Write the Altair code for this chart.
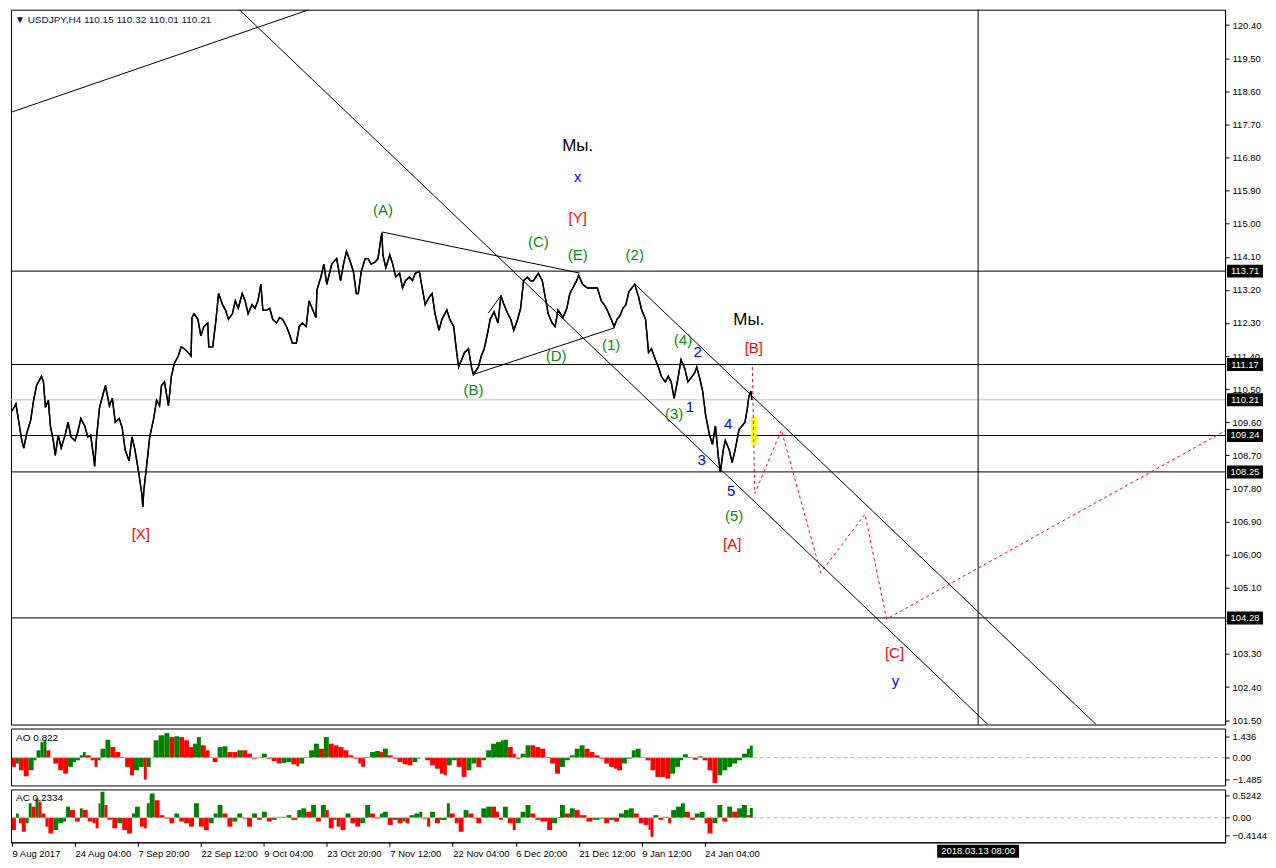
import altair as alt
import pandas as pd

# ---------------- data ----------------
# price (H4 bar index, close)
px = [3,7,10,13,15,18,22,25,28,33,35,37,40,42,45,47,50,53,57,60,63,67,70,73,77,80,83,86,87,89,92,95,98,102,105,108,112,115,118,122,125,128,132,135,136,137,140,143,147,150,153,155,158,162,165,168,172,175,178,182,185,186,188,192,195,198,202,203,207,210,213,217,220,223,227,230,233,237,240,243,247,250,253,256,258,262,265,268,272,275,278,282,285,288,292,295,298,302,305,308,312,313,317,320,323,328,333,337,340,343,347,350,353,355,358,362,365,368,372,375,378,379,380,383,387,390,393,397,400,403,407,410,413,417,420,423,427,430,433,437,440,445,448,452,455,457,460,463,467,470,472,477,480,483,487,489,493,497,500,503,507,510,513,517,520,523,527,530,533,538,542,545,548,552,555,558,563,567,570,573,577,579,583,588,593,598,602,605,608,612,615,618,621,624,627,630,633,636,640,643,647,650,653,657,660,663,667,670,673,676,680,683,687,690,693,697,699,702,705,708,712,715,718,721,723,726,728,732,735,738,742,745,748,750,752,754,755]
pv = [109.9,110.1,109.6,109.1,108.9,109.3,109.65,110.2,110.6,110.85,110.7,110.0,110.2,109.5,109.1,108.7,109.25,108.9,109.25,109.6,109.2,109.1,109.35,109.7,109.5,109.2,109.25,108.65,108.4,109.2,110.0,110.3,110.6,110.05,110.25,109.6,109.7,109.45,108.85,108.55,109.2,108.85,108.2,107.65,107.3,107.75,108.45,109.2,109.7,110.2,110.05,110.6,110.7,110.05,110.85,111.2,111.4,111.65,111.6,111.5,111.4,112.45,112.55,112.4,111.95,112.2,112.3,111.65,111.65,112.3,113.1,112.8,112.65,112.4,112.55,112.9,112.7,113.1,112.9,112.55,112.8,112.7,112.9,113.35,112.65,112.65,112.7,112.4,112.3,112.45,112.4,112.2,112.0,111.75,111.75,112.2,112.3,112.2,112.9,112.7,112.45,113.2,113.55,113.9,113.35,113.9,114.05,113.45,113.9,114.25,113.95,113.7,113.1,113.1,113.7,114.05,114.05,113.9,113.95,114.05,114.6,114.75,114.15,113.8,114.15,113.9,113.55,113.65,113.25,113.45,113.55,113.45,113.65,113.7,113.25,112.8,113.0,113.1,112.55,112.1,112.4,112.65,112.4,112.2,111.5,111.1,111.3,111.5,111.6,111.1,110.9,111.1,111.4,111.6,112.1,112.4,112.6,112.3,113.05,112.8,112.55,112.4,112.1,112.4,112.7,113.45,113.55,113.45,113.45,113.65,113.45,113.0,112.55,112.3,112.2,112.65,112.45,112.7,113.1,113.25,113.45,113.6,113.35,113.25,113.25,113.25,112.9,112.8,112.65,112.4,112.2,112.4,112.5,112.7,112.8,113.15,113.25,113.35,113.0,112.65,112.4,111.5,111.6,111.3,111.1,110.85,110.7,110.85,110.7,110.25,110.8,111.3,111.05,110.7,110.8,110.95,111.1,110.8,110.45,109.8,109.25,109.0,109.5,108.65,108.25,108.85,109.1,108.85,108.5,108.85,109.4,109.5,109.6,109.9,110.3,110.45,110.21]

# AO histogram samples
ao_x = [3,7,10,15,20,25,28,32,35,38,42,45,50,55,60,65,68,72,75,78,83,87,90,93,98,103,108,113,118,123,127,132,137,140,144,147,152,158,163,168,173,178,183,187,191,195,200,204,207,212,217,222,227,232,237,242,247,252,257,262,267,272,277,282,287,292,295,300,305,310,315,320,325,330,335,340,345,350,355,358,362,367,372,377,380,385,390,395,400,405,410,415,418,423,428,433,438,442,445,450,455,460,465,470,475,480,485,490,495,500,503,507,512,515,520,525,530,535,540,545,550,555,560,565,570,575,580,585,590,595,600,605,610,615,618,623,628,633,637,642,647,652,657,662,667,672,677,682,685,690,695,700,705,710,715,720,725,730,735,740,745,750,753]
ao_v = [-0.63,-0.4,-0.86,-1.27,-0.86,-0.18,0.5,1.06,1.18,0.5,0.0,-0.4,-0.86,-1.09,-0.63,-0.3,-0.18,0.16,0.38,0.16,-0.18,-0.63,-0.18,0.61,1.22,0.72,0.38,0.05,-0.63,-1.2,-0.86,-0.63,-1.49,-0.63,0.0,1.18,1.52,1.67,1.4,1.45,1.4,1.18,0.72,0.95,1.4,0.84,0.5,0.05,-0.3,0.72,0.77,0.38,0.38,0.5,0.5,0.27,-0.07,0.05,0.27,-0.07,-0.23,-0.4,-0.36,-0.3,-0.45,-0.59,-0.4,0.05,0.5,0.95,0.61,1.4,0.95,0.84,0.72,0.5,0.16,-0.07,-0.4,-0.63,0.05,0.38,0.45,0.38,0.61,0.16,-0.07,-0.3,-0.45,-0.52,-0.3,-0.07,0.0,-0.18,-0.52,-0.75,-1.09,-1.2,-0.52,-0.18,-0.63,-1.31,-0.86,-0.4,-0.63,-0.18,0.5,0.95,1.06,1.18,1.22,0.72,0.27,-0.07,0.27,0.84,0.84,0.72,0.61,0.05,-0.4,-1.09,-0.63,-0.18,0.16,0.61,0.84,0.61,0.38,0.16,-0.07,-0.4,-0.63,-0.75,-0.86,-0.4,-0.07,0.5,0.61,0.05,-0.18,-0.86,-1.31,-1.31,-1.43,-1.09,-0.63,-0.18,0.23,0.05,-0.14,0.09,-0.18,-0.86,-1.72,-1.2,-0.86,-0.63,-0.4,-0.18,0.27,0.61,0.82]

# AC histogram samples
ac_x = [3,7,10,13,17,20,23,27,30,33,37,40,45,50,55,58,62,67,72,75,80,85,88,91,93,97,100,105,110,115,120,125,128,133,137,140,143,148,153,158,163,168,173,178,183,188,193,198,203,208,212,217,222,227,232,237,242,247,252,257,262,267,272,277,282,287,293,297,302,307,312,317,322,325,330,333,337,342,347,352,357,362,367,372,377,380,385,390,395,400,403,407,412,417,420,425,428,433,438,445,448,453,457,462,467,472,475,480,485,490,495,498,502,507,512,515,520,525,530,535,540,547,552,557,560,565,570,575,580,587,593,600,605,610,615,620,625,630,635,640,645,650,652,655,660,665,670,673,678,683,687,692,697,702,707,710,715,720,725,730,735,740,745,750,753]
ac_v = [-0.29,0.1,-0.13,-0.33,-0.13,0.34,0.26,0.45,0.38,0.1,-0.21,-0.37,-0.29,-0.13,-0.09,0.26,0.18,-0.09,0.22,0.18,-0.09,-0.13,-0.25,0.34,0.61,0.3,-0.05,-0.25,-0.13,-0.29,-0.37,0.1,0.26,-0.21,-0.25,0.34,0.57,0.41,0.06,-0.02,-0.13,0.1,-0.09,-0.13,-0.21,0.34,-0.21,-0.29,-0.13,0.1,0.3,0.1,-0.21,-0.09,0.1,-0.02,-0.21,0.1,-0.05,0.14,-0.09,-0.05,0.02,0.02,0.06,-0.05,0.18,0.22,0.14,0.3,-0.09,0.3,0.18,-0.25,-0.05,-0.21,-0.29,0.1,-0.13,-0.21,-0.13,0.3,0.1,-0.02,0.1,0.14,-0.17,-0.05,-0.13,-0.09,-0.13,0.06,0.1,0.14,-0.02,-0.21,0.14,-0.13,-0.05,0.34,0.1,-0.13,-0.33,0.18,0.1,-0.02,-0.13,0.22,0.26,0.26,0.14,-0.05,0.26,-0.13,-0.29,-0.13,0.14,0.3,0.1,-0.05,-0.09,-0.29,-0.13,0.02,0.3,0.1,0.22,0.18,0.06,-0.09,-0.05,-0.02,-0.13,-0.05,-0.09,0.1,0.18,0.22,0.1,-0.13,-0.17,-0.29,-0.45,0.06,-0.05,0.02,-0.13,0.18,0.26,0.34,0.14,-0.05,0.1,0.14,-0.13,-0.37,-0.13,0.3,-0.09,0.26,0.14,0.22,0.3,0.06,0.23]

# horizontal levels and price-label boxes
level_p = [113.71, 111.17, 109.24, 108.25, 104.28]
bid_p = [110.21]
box_p = [113.71, 111.17, 110.21, 109.24, 108.25, 104.28]
vline_x = [985]

# drawn trend lines (bar, price) -> (bar, price)
seg_x1 = [2, 234, 636, 379, 473, 487]
seg_p1 = [118.03, 120.82, 113.36, 114.775, 110.91, 112.565]
seg_x2 = [305, 995, 1105, 580, 615, 500]
seg_p2 = [120.82, 101.38, 101.38, 113.657, 112.165, 113.044]

# projected path (red dashed)
proj_x = [755.5, 758, 785, 825, 870, 892, 1236]
proj_p = [111.10, 107.66, 109.39, 105.51, 107.10, 104.25, 109.37]

# yellow marker
mark_x = [754, 760]
mark_p = [108.98, 109.76]

# wave labels
lab_text = ["Мы.", "x", "[Y]", "(A)", "(C)", "(E)", "(2)", "(D)", "(1)", "(B)", "(4)", "2", "1", "(3)", "4", "3", "5", "(5)", "[A]", "Мы.", "[B]", "[X]", "[C]", "y"]
lab_x = [578, 578, 578, 380, 538, 578, 636, 556, 612, 472, 685, 700, 692, 676, 731, 704, 734, 737, 735, 752, 757, 134, 900, 901]
lab_p = [117.12, 116.27, 115.15, 115.36, 114.51, 114.16, 114.16, 111.39, 111.71, 110.49, 111.85, 111.50, 110.01, 109.82, 109.55, 108.57, 107.72, 107.05, 106.28, 112.38, 111.61, 106.57, 103.32, 102.57]
lab_kind = ["black", "blue", "red", "green", "green", "green", "green", "green", "green", "green", "green", "blue", "blue", "green", "blue", "blue", "blue", "green", "red", "black", "red", "red", "red", "blue"]

price_ticks = [120.4, 119.5, 118.6, 117.7, 116.8, 115.9, 115.0, 114.1, 113.2, 112.3, 111.4, 110.5, 109.6, 108.7, 107.8, 106.9, 106.0, 105.1, 104.2, 103.3, 102.4, 101.5]
time_ticks = [3, 67, 131, 195, 259, 323, 387, 451, 515, 579, 643, 707]
time_labels = ["9 Aug 2017", "24 Aug 04:00", "7 Sep 20:00", "22 Sep 12:00", "9 Oct 04:00", "23 Oct 20:00", "7 Nov 12:00", "22 Nov 04:00", "6 Dec 20:00", "21 Dec 12:00", "9 Jan 12:00", "24 Jan 04:00"]
future_x = [985]
future_label = ["2018.03.13 08:00"]

title_text = "▼ USDJPY,H4  110.15 110.32 110.01 110.21"
ao_title = "AO 0.822"
ac_title = "AC 0.2334"

# ---------------- layout ----------------
W = 1216
H_MAIN = 716
H_AO = 57
H_AC = 53
FONT = "Liberation Sans"
PALETTE = {"black": "#000000", "blue": "#0000ff", "red": "#ff0000", "green": "#0a8a0a"}

xscale = alt.Scale(domain=[2, 1236], nice=False, zero=False)
yscale = alt.Scale(domain=[101.38, 120.82], nice=False, zero=False)
ao_scale = alt.Scale(domain=[-1.89, 1.98], nice=False, zero=False)
ac_scale = alt.Scale(domain=[-0.579, 0.665], nice=False, zero=False)

price_df = pd.DataFrame({"x": px, "p": pv})
lev_df = pd.DataFrame({"p": level_p})
bid_df = pd.DataFrame({"p": bid_p})
box_df = pd.DataFrame({"p": box_p, "t": [f"{v:.2f}" for v in box_p]})
vl_df = pd.DataFrame({"x": vline_x})
seg_df = pd.DataFrame({"x1": seg_x1, "p1": seg_p1, "x2": seg_x2, "p2": seg_p2})
proj_df = pd.DataFrame({"x": proj_x, "p": proj_p})
mk_df = pd.DataFrame({"x1": [mark_x[0]], "x2": [mark_x[1]], "p1": [mark_p[0]], "p2": [mark_p[1]]})
lab_df = pd.DataFrame({"t": lab_text, "x": lab_x, "p": lab_p})
lab_df["c"] = [PALETTE[k] for k in lab_kind]
lab_df["s"] = [17 if t == "Мы." else 15 for t in lab_text]


def hist_df(xs, vs):
    d = pd.DataFrame({"x": xs, "v": vs})
    d["x2"] = d["x"].shift(-1).fillna(d["x"].iloc[-1] + 3)
    cols = []
    for i, v in enumerate(vs):
        cols.append("#008000" if (i > 0 and v > vs[i - 1]) else "#ff0000")
    d["c"] = cols
    d["zero"] = 0.0
    return d


ao_df = hist_df(ao_x, ao_v)
ac_df = hist_df(ac_x, ac_v)

AXIS_COMMON = dict(title=None, grid=False, tickSize=4, labelFont=FONT, labelFontSize=9.5,
                   labelColor="#000000", domainColor="#000000", tickColor="#000000")

price_axis = alt.Axis(orient="right", values=price_ticks, format=".2f", labelPadding=3, **AXIS_COMMON)

X = lambda f: alt.X(f, type="quantitative", scale=xscale, axis=None)
Y = lambda f: alt.Y(f, type="quantitative", scale=yscale, axis=price_axis)

BOX_PATH = "M-1,-0.361H1V0.361H-1Z"

main_layers = [
    alt.Chart(price_df).mark_line(color="#000000", strokeWidth=1.4).encode(x=X("x"), y=Y("p")),
    alt.Chart(lev_df).mark_rule(color="#000000", strokeWidth=1).encode(y=Y("p")),
    alt.Chart(bid_df).mark_rule(color="#c0c0c0", strokeWidth=1).encode(y=Y("p")),
    alt.Chart(vl_df).mark_rule(color="#000000", strokeWidth=1).encode(x=X("x")),
    alt.Chart(seg_df).mark_rule(color="#000000", strokeWidth=1, clip=True).encode(
        x=X("x1"), y=Y("p1"), x2="x2", y2="p2"),
    alt.Chart(mk_df).mark_rect(color="#ffff00", cornerRadius=3).encode(
        x=X("x1"), x2="x2", y=Y("p1"), y2="p2"),
    alt.Chart(price_df).mark_line(color="#000000", strokeWidth=1.4).encode(x=X("x"), y=Y("p")),
    alt.Chart(proj_df).mark_line(color="#ff0000", strokeWidth=1, strokeDash=[3, 3]).encode(
        x=X("x"), y=Y("p")),
    alt.Chart(lab_df).mark_text(font=FONT, baseline="middle", align="center").encode(
        x=X("x"), y=Y("p"), text="t",
        size=alt.Size("s", type="quantitative", scale=None, legend=None),
        color=alt.Color("c", type="nominal", scale=None, legend=None)),
    alt.Chart(box_df).mark_point(shape=BOX_PATH, filled=True, color="#000000", opacity=1,
                                 strokeWidth=0, size=1296).encode(
        x=alt.value(W + 20), y=Y("p")),
    alt.Chart(box_df).mark_text(font=FONT, fontSize=9.5, color="#ffffff", align="center",
                                baseline="middle").encode(
        x=alt.value(W + 20), y=Y("p"), text="t"),
    alt.Chart(pd.DataFrame({"t": [title_text]})).mark_text(
        font=FONT, fontSize=10, color="#0b1440", align="left", baseline="middle").encode(
        x=alt.value(4), y=alt.value(10), text="t"),
]
main = alt.layer(*main_layers).properties(width=W, height=H_MAIN)


def indicator(df, scale, ticks, fmt, label, with_xaxis, h):
    ya = alt.Axis(orient="right", values=ticks, labelPadding=3,
                  labelExpr=f"datum.value == 0 ? '0.00' : format(datum.value, '{fmt}')",
                  **AXIS_COMMON)
    if with_xaxis:
        arr = "[" + ",".join(f"'{t}'" for t in time_labels) + "]"
        xa = alt.Axis(orient="bottom", values=time_ticks, labelAlign="left", labelPadding=2,
                      labelExpr=f"{arr}[round((datum.value - 3) / 64)]", **AXIS_COMMON)
    else:
        xa = None
    XI = lambda f: alt.X(f, type="quantitative", scale=xscale, axis=xa)
    YI = lambda f: alt.Y(f, type="quantitative", scale=scale, axis=ya)
    zero_df = pd.DataFrame({"zero": [0.0]})
    layers = [
        alt.Chart(df).mark_rect(strokeWidth=0).encode(
            x=XI("x"), x2="x2", y=YI("v"), y2="zero",
            color=alt.Color("c", type="nominal", scale=None, legend=None)),
        alt.Chart(zero_df).mark_rule(color="#b8b8b8", strokeDash=[4, 3], strokeWidth=1).encode(
            y=YI("zero")),
        alt.Chart(pd.DataFrame({"t": [label]})).mark_text(
            font=FONT, fontSize=10, color="#000000", align="left", baseline="middle").encode(
            x=alt.value(5), y=alt.value(9), text="t"),
    ]
    if with_xaxis:
        fdf = pd.DataFrame({"x": future_x, "t": future_label})
        layers.append(alt.Chart(fdf).mark_point(shape="M-1,-0.1585H1V0.1585H-1Z", filled=True,
                                                color="#000000", opacity=1, strokeWidth=0,
                                                size=6724).encode(x=XI("x"), y=alt.value(h + 9)))
        layers.append(alt.Chart(fdf).mark_text(font=FONT, fontSize=9.5, color="#ffffff",
                                               align="center", baseline="middle").encode(
            x=XI("x"), y=alt.value(h + 9), text="t"))
    return alt.layer(*layers).properties(width=W, height=h)


ao = indicator(ao_df, ao_scale, [1.436, 0, -1.485], ".3f", ao_title, False, H_AO)
ac = indicator(ac_df, ac_scale, [0.5242, 0, -0.4144], ".4f", ac_title, True, H_AC)

chart = alt.vconcat(main, ao, ac, spacing=2).properties(
    padding={"left": 0, "top": 0, "right": 0, "bottom": 0},
    background="#ffffff",
).resolve_scale(color="independent").configure_view(stroke="#000000", strokeWidth=1)

chart.save("out.html", embed_options={"renderer": "svg", "actions": False})
